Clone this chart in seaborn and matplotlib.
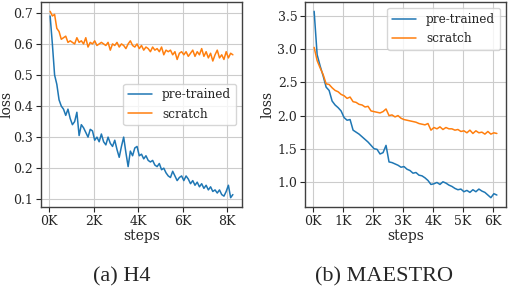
"""Training loss curves: pre-trained vs scratch on H4 and MAESTRO."""

import numpy as np
import pandas as pd
import matplotlib
matplotlib.use("Agg")
import matplotlib.pyplot as plt
import seaborn as sns
from matplotlib.ticker import FuncFormatter, MultipleLocator

# H4 loss values, one every 100 steps starting at step 50
h4_pretrained = [
    0.69, 0.60, 0.50, 0.47, 0.42, 0.40, 0.39, 0.37, 0.39, 0.36,
    0.34, 0.35, 0.38, 0.305, 0.34, 0.33, 0.315, 0.30, 0.325, 0.32,
    0.29, 0.30, 0.285, 0.31, 0.285, 0.275, 0.30, 0.28, 0.27, 0.29,
    0.26, 0.235, 0.27, 0.30, 0.25, 0.205, 0.255, 0.24, 0.265, 0.27,
    0.24, 0.245, 0.23, 0.24, 0.225, 0.22, 0.225, 0.21, 0.205, 0.215,
    0.195, 0.20, 0.185, 0.175, 0.17, 0.19, 0.175, 0.16, 0.17, 0.175,
    0.16, 0.175, 0.165, 0.15, 0.16, 0.145, 0.155, 0.14, 0.15, 0.135,
    0.145, 0.13, 0.14, 0.125, 0.13, 0.12, 0.13, 0.115, 0.11, 0.125,
    0.145, 0.105, 0.115,
]
h4_scratch = [
    0.705, 0.69, 0.695, 0.65, 0.64, 0.615, 0.62, 0.625, 0.605, 0.61,
    0.605, 0.60, 0.62, 0.605, 0.61, 0.60, 0.62, 0.59, 0.605, 0.60,
    0.61, 0.595, 0.60, 0.605, 0.60, 0.595, 0.605, 0.58, 0.60, 0.595,
    0.605, 0.59, 0.60, 0.595, 0.585, 0.60, 0.61, 0.595, 0.59, 0.60,
    0.585, 0.595, 0.58, 0.59, 0.585, 0.575, 0.59, 0.58, 0.585, 0.575,
    0.59, 0.565, 0.58, 0.575, 0.58, 0.565, 0.575, 0.55, 0.57, 0.575,
    0.565, 0.575, 0.56, 0.57, 0.58, 0.56, 0.575, 0.565, 0.585, 0.56,
    0.575, 0.555, 0.57, 0.545, 0.565, 0.58, 0.555, 0.565, 0.55, 0.575,
    0.555, 0.57, 0.565,
]

# MAESTRO loss values, one every 100 steps starting at step 35
maestro_pretrained = [
    3.575, 2.92, 2.75, 2.60, 2.43, 2.38, 2.22, 2.16, 2.12, 2.07,
    1.97, 1.93, 1.94, 1.78, 1.75, 1.72, 1.68, 1.64, 1.60, 1.55,
    1.50, 1.49, 1.42, 1.44, 1.55, 1.30, 1.29, 1.27, 1.25, 1.22,
    1.23, 1.19, 1.17, 1.13, 1.14, 1.10, 1.09, 1.06, 1.02, 0.96,
    0.97, 0.99, 0.96, 1.00, 0.98, 0.95, 0.93, 0.90, 0.88, 0.89,
    0.85, 0.87, 0.84, 0.88, 0.85, 0.89, 0.86, 0.84, 0.80, 0.76,
    0.82, 0.80,
]
maestro_scratch = [
    3.03, 2.83, 2.72, 2.62, 2.48, 2.47, 2.42, 2.38, 2.36, 2.32,
    2.30, 2.26, 2.28, 2.21, 2.20, 2.17, 2.16, 2.13, 2.14, 2.07,
    2.06, 2.05, 2.04, 2.06, 2.10, 2.00, 2.01, 1.98, 2.00, 1.96,
    1.94, 1.93, 1.92, 1.91, 1.90, 1.88, 1.87, 1.86, 1.88, 1.78,
    1.82, 1.80, 1.83, 1.79, 1.82, 1.80, 1.80, 1.78, 1.79, 1.76,
    1.77, 1.74, 1.78, 1.73, 1.77, 1.74, 1.75, 1.72, 1.76, 1.72,
    1.74, 1.73,
]

LABELS = ["pre-trained", "scratch"]
PALETTE = {"pre-trained": "#1f77b4", "scratch": "#ff7f0e"}


def to_frame(pre, scr, start, every=100):
    rows = []
    for name, vals in zip(LABELS, [pre, scr]):
        for i, v in enumerate(vals):
            rows.append({"steps": start + every * i, "loss": v, "model": name})
    return pd.DataFrame(rows)


sns.set_style("whitegrid", {
    "axes.edgecolor": "0.25",
    "grid.color": "0.8",
    "xtick.bottom": True,
    "ytick.left": True,
    "xtick.color": "0.15",
    "ytick.color": "0.15",
})
plt.rcParams["font.family"] = ["DejaVu Serif"]
plt.rcParams["xtick.major.size"] = 3.5
plt.rcParams["ytick.major.size"] = 3.5

fig = plt.figure(figsize=(5.08, 2.88), dpi=100)
ax_h4 = fig.add_axes([41 / 508, 81 / 288, 201 / 508, 205 / 288])
ax_ma = fig.add_axes([305 / 508, 81 / 288, 201 / 508, 205 / 288])

k_fmt = FuncFormatter(lambda x, pos: f"{int(round(x / 1000))}K")

panels = [
    (ax_h4, to_frame(h4_pretrained, h4_scratch, 50), 2000, 0.1, "center right", -0.135),
    (ax_ma, to_frame(maestro_pretrained, maestro_scratch, 35), 1000, 0.5, "upper right", -0.15),
]
for ax, df, xstep, ystep, loc, ylab_x in panels:
    sns.lineplot(data=df, x="steps", y="loss", hue="model", palette=PALETTE,
                 linewidth=1.1, ax=ax)
    ax.xaxis.set_major_locator(MultipleLocator(xstep))
    ax.xaxis.set_major_formatter(k_fmt)
    ax.yaxis.set_major_locator(MultipleLocator(ystep))
    ax.tick_params(labelsize=9, pad=2)
    ax.set_xlabel("steps", fontsize=10, labelpad=1)
    ax.set_ylabel("loss", fontsize=10)
    ax.yaxis.set_label_coords(ylab_x, 0.5)
    for s in ax.spines.values():
        s.set_linewidth(1.0)
    ax.legend(title=None, loc=loc, fontsize=8.7, frameon=True)

ax_h4.yaxis.set_major_formatter(FuncFormatter(lambda y, pos: f"{y:.1f}"))

cap_font = ["Liberation Serif", "DejaVu Serif"]
fig.text(122 / 508, 0.04, "(a) H4", ha="center", va="center",
         fontsize=16, family=cap_font)
fig.text(384 / 508, 0.04, "(b) MAESTRO", ha="center", va="center",
         fontsize=16, family=cap_font)

fig.savefig("out.png", dpi=100)
